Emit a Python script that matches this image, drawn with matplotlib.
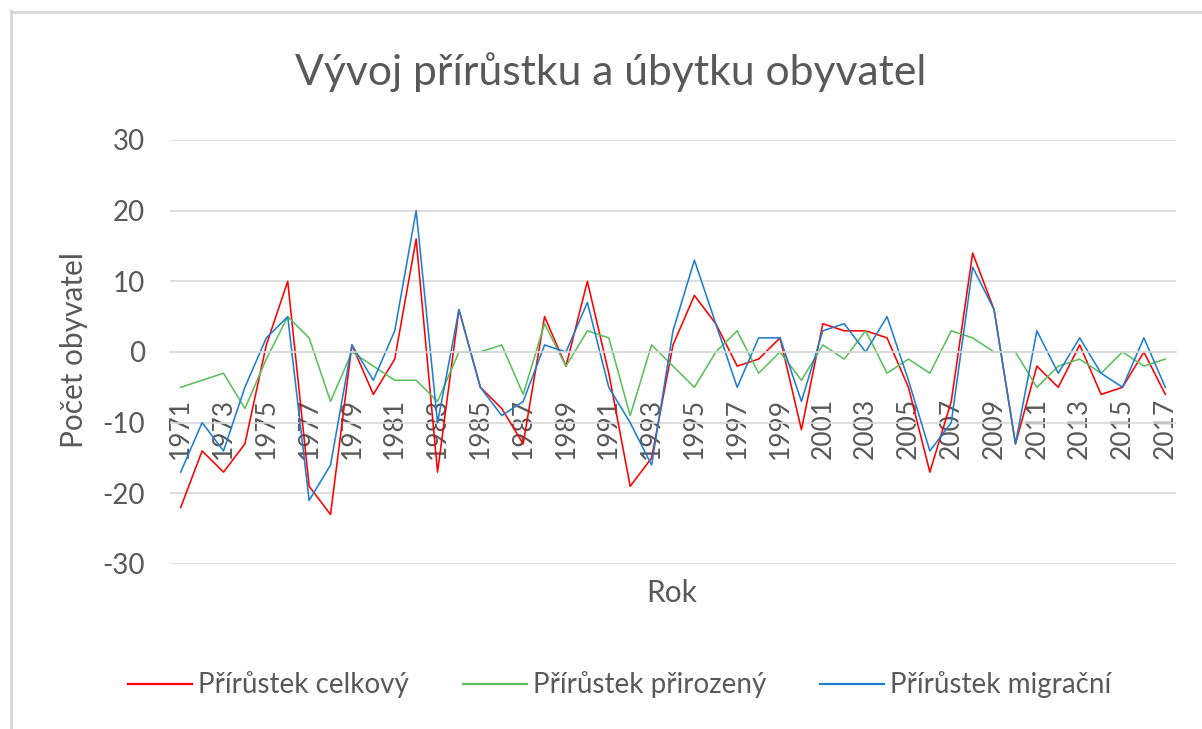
import matplotlib
matplotlib.use("Agg")
import matplotlib.pyplot as plt
from matplotlib.lines import Line2D

years = list(range(1971, 2018))
celkovy = [-22, -14, -17, -13, 1, 10, -19, -23, 1, -6, -1, 16, -17, 6, -5, -8, -13, 5, -2, 10,
           -3, -19, -15, 1, 8, 4, -2, -1, 2, -11, 4, 3, 3, 2, -5, -17, -7, 14, 6, -13,
           -2, -5, 1, -6, -5, 0, -6]
prirozeny = [-5, -4, -3, -8, -1, 5, 2, -7, 0, -2, -4, -4, -7, 0, 0, 1, -6, 4, -2, 3,
             2, -9, 1, -2, -5, 0, 3, -3, 0, -4, 1, -1, 3, -3, -1, -3, 3, 2, 0, 0,
             -5, -2, -1, -3, 0, -2, -1]
migracni = [-17, -10, -14, -5, 2, 5, -21, -16, 1, -4, 3, 20, -10, 6, -5, -9, -7, 1, 0, 7,
            -5, -10, -16, 3, 13, 4, -5, 2, 2, -7, 3, 4, 0, 5, -4, -14, -10, 12, 6, -13,
            3, -3, 2, -3, -5, 2, -5]
series_names = ["Přírůstek celkový", "Přírůstek přirozený", "Přírůstek migrační"]
title = "Vývoj přírůstku a úbytku obyvatel"
ylabel = "Počet obyvatel"
xlabel = "Rok"
yticks = [-30, -20, -10, 0, 10, 20, 30]
xtick_years = years[::2]

colors = ["#ff0000", "#5cbf5c", "#1f7ed0"]
TXT = "#595959"
FONT = ["Lato", "DejaVu Sans"]
plt.rcParams["font.family"] = FONT

W, H = 1202, 729
fig = plt.figure(figsize=(W / 100, H / 100), dpi=100)
fig.patch.set_facecolor("white")

# chart border (light gray, extends beyond right/bottom edge)
fig.add_artist(Line2D([11 / W, 11 / W], [1 - 11 / H, 0], transform=fig.transFigure,
                      color="#d9d9d9", lw=2.2))
fig.add_artist(Line2D([11 / W, 1], [1 - 11.5 / H, 1 - 11.5 / H], transform=fig.transFigure,
                      color="#d9d9d9", lw=2.2))

L, R, T, B = 170, 1176, 140, 564
ax = fig.add_axes([L / W, 1 - B / H, (R - L) / W, (B - T) / H])
for s, c, n in zip([celkovy, prirozeny, migracni], colors, series_names):
    ax.plot(years, s, color=c, lw=1.15, label=n, zorder=2)

ax.set_xlim(1970.5, 2017.5)
ax.set_ylim(-30, 30)
ax.set_yticks(yticks)
ax.set_yticklabels([str(v) for v in yticks])
ax.grid(axis="y", color="#d9d9d9", lw=1.2, zorder=0)
ax.set_axisbelow(True)
for sp in ["top", "right", "left"]:
    ax.spines[sp].set_visible(False)
ax.spines["bottom"].set_position(("data", 0))
ax.spines["bottom"].set_color("#d9d9d9")
ax.spines["bottom"].set_linewidth(1.2)
ax.set_xticks(xtick_years)
ax.set_xticklabels([str(y) for y in xtick_years], rotation=90)
ax.tick_params(axis="x", length=0, pad=33, labelsize=19, labelcolor=TXT)
ax.tick_params(axis="y", length=0, pad=18, labelsize=20, labelcolor=TXT)

fig.text(611 / W, 1 - 72 / H, title, ha="center", va="center", fontsize=30.7, color=TXT)
fig.text(74 / W, 1 - 350 / H, ylabel, ha="center", va="center", rotation=90,
         fontsize=21.5, color=TXT)
fig.text(672 / W, 1 - 593 / H, xlabel, ha="center", va="center", fontsize=21.5, color=TXT)

fs_leg = 20
px = fs_leg * 100 / 72
leg = fig.legend(loc="center", bbox_to_anchor=(620 / W, 1 - 685 / H), ncol=3, frameon=False,
                 fontsize=fs_leg, handlelength=64 / px, handletextpad=6 / px,
                 columnspacing=54 / px, labelcolor=TXT)
for h in leg.legend_handles:
    h.set_linewidth(1.6)

fig.savefig("out.png", dpi=100)
